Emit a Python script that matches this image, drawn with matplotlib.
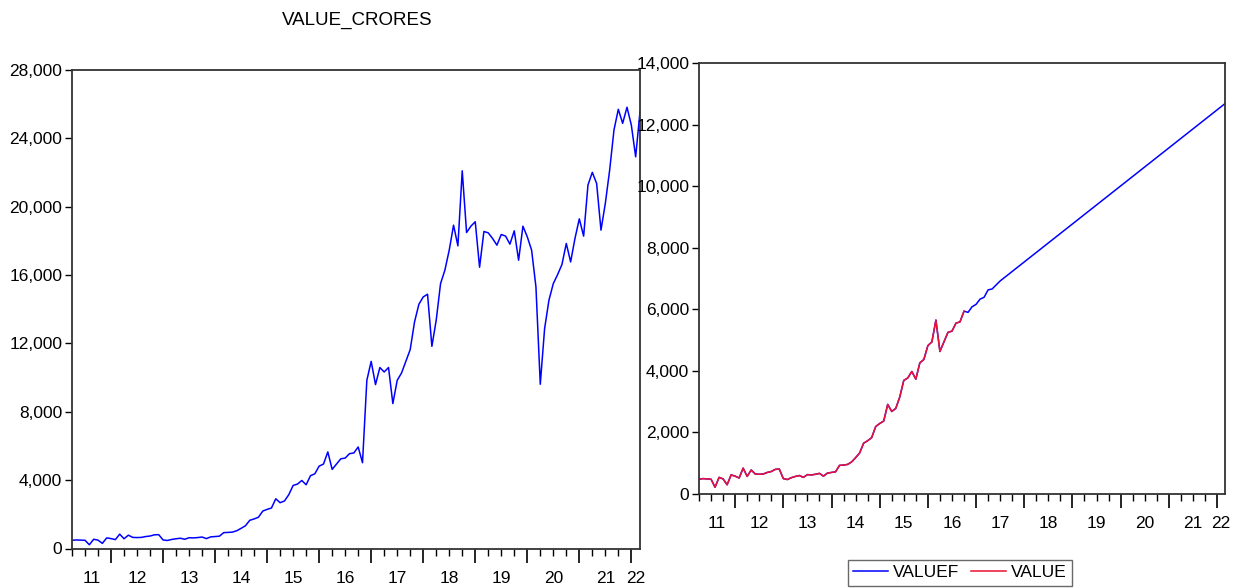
import matplotlib
matplotlib.use('Agg')
import matplotlib.pyplot as plt
import matplotlib.ticker as mtick
import numpy as np
import pandas as pd

plt.rcParams['font.family'] = ['Liberation Sans', 'DejaVu Sans']

# monthly series, 2011M04 .. 2022M03
start = '2011-04'
value_crores = [
    480, 500, 490, 480, 220, 540, 490, 300, 620, 580, 520, 840,
    570, 780, 650, 640, 650, 700, 730, 800, 810, 500, 470, 530,
    570, 600, 540, 630, 620, 640, 670, 580, 680, 700, 720, 930,
    940, 960, 1040, 1180, 1330, 1650, 1730, 1830, 2190, 2290, 2370, 2910,
    2680, 2780, 3150, 3690, 3770, 3980, 3730, 4260, 4370, 4820, 4940, 5650,
    4630, 4940, 5250, 5290, 5550, 5590, 5940, 5020, 9840, 10950, 9590, 10590,
    10330, 10590, 8480, 9840, 10270, 10950, 11640, 13260, 14290, 14720, 14880, 11830,
    13360, 15500, 16290, 17460, 18920, 17710, 22100, 18490, 18860, 19120, 16460, 18550,
    18470, 18140, 17750, 18375, 18280, 17810, 18590, 16870, 18860, 18240, 17460, 15310,
    9610, 12870, 14530, 15500, 16030, 16620, 17850, 16770, 18140, 19290, 18280, 21270,
    22010, 21360, 18630, 20190, 22140, 24490, 25700, 24880, 25820, 24780, 22920, 25560,
]

# right panel: actual VALUE until 2016M10, then forecast VALUEF
value_last = '2016-10'
valuef_dates = ['2016-11', '2016-12', '2017-01', '2017-02', '2017-03',
                '2017-04', '2017-05', '2017-06', '2017-07', '2022-03']
valuef_fc = [5900, 6080, 6160, 6330, 6390, 6630, 6660, 6790, 6920, 12680]

year_labels = ['11', '12', '13', '14', '15', '16', '17', '18', '19', '20', '21', '22']


def yfrac(p):
    return p.year + (p.month - 1) / 12


months = pd.period_range(start, periods=len(value_crores), freq='M')
x = np.array([yfrac(p) for p in months])
y = np.array(value_crores, dtype=float)

n_act = list(months).index(pd.Period(value_last, freq='M')) + 1
xf = np.concatenate([x[:n_act], [yfrac(pd.Period(d, freq='M')) for d in valuef_dates]])
yf = np.concatenate([y[:n_act], valuef_fc])

BLUE = '#0000ff'
RED = '#ee1133'
FS = 12.5


def style(ax, ymax, ystep):
    ax.set_xlim(x[0], x[-1])
    ax.set_ylim(0, ymax)
    ax.set_yticks(np.arange(0, ymax + 1, ystep))
    ax.yaxis.set_major_formatter(mtick.StrMethodFormatter('{x:,.0f}'))
    ax.set_xticks(np.arange(2012, 2023))
    ax.set_xticks(np.arange(x[0], x[-1] + 1e-6, 0.25), minor=True)
    ax.tick_params(axis='x', which='major', length=10, width=1.2, labelbottom=False)
    ax.tick_params(axis='x', which='minor', length=5, width=1.0)
    ax.tick_params(axis='y', length=5, width=1.0, pad=2, labelsize=FS)
    for s in ax.spines.values():
        s.set_color('#333333')
        s.set_linewidth(1.3)
    mids = []
    for yr in range(2011, 2023):
        lo = max(yr, x[0])
        hi = min(yr + 1, x[-1])
        mids.append((lo + hi) / 2)
    sec = ax.secondary_xaxis('bottom')
    sec.set_xticks(mids, year_labels)
    sec.tick_params(length=0, pad=16, labelsize=FS)
    sec.spines['bottom'].set_visible(False)


fig = plt.figure(figsize=(12.37, 5.88), dpi=100)
W, H = 1237, 588
ax1 = fig.add_axes([72 / W, 1 - 548.5 / H, 568 / W, 478.5 / H])
ax2 = fig.add_axes([699 / W, 1 - 494 / H, 526 / W, 431 / H])

ax1.plot(x, y, color=BLUE, lw=1.1)
style(ax1, 28000, 4000)
fig.text(357 / W, 1 - 20 / H, 'VALUE_CRORES', ha='center', va='center', fontsize=13.5)

l1, = ax2.plot(xf, yf, color=BLUE, lw=1.1, label='VALUEF')
l2, = ax2.plot(x[:n_act], y[:n_act], color=RED, lw=1.1, label='VALUE')
style(ax2, 14000, 2000)

fig.legend(handles=[l1, l2], loc='upper center', bbox_to_anchor=(960 / W, 1 - 560 / H),
           ncol=2, fontsize=FS, frameon=True, fancybox=False, edgecolor='#444444',
           handlelength=2.0, columnspacing=0.7, handletextpad=0.3, borderpad=0.3,
           borderaxespad=0)

fig.savefig('out.png', dpi=100)
